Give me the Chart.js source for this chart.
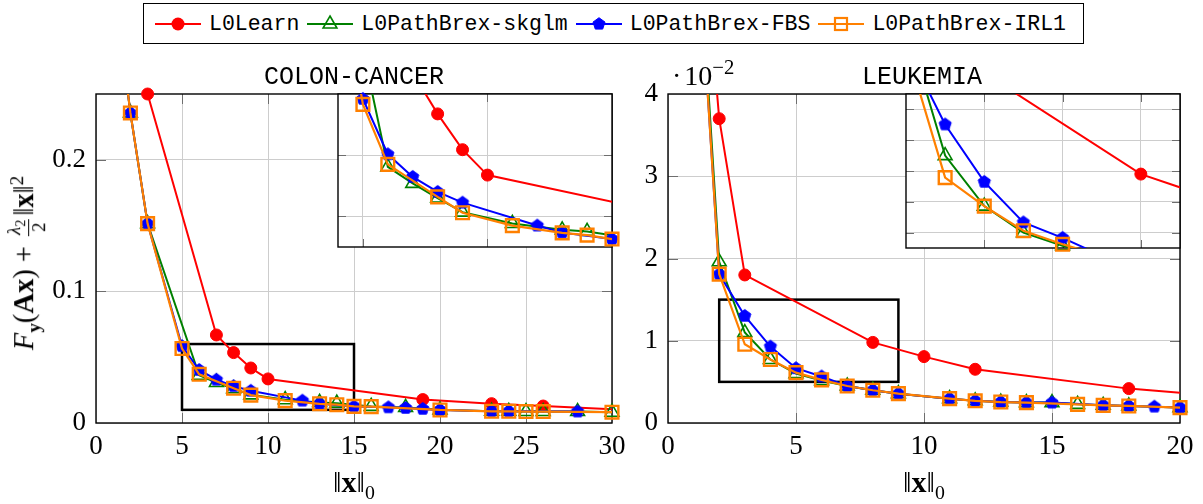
<!DOCTYPE html>
<html><head><meta charset="utf-8">
<script src="https://cdn.jsdelivr.net/npm/chart.js@4.4.1/dist/chart.umd.min.js"></script>
<style>
html,body{margin:0;padding:0;background:#fff}
body{width:1203px;height:504px;position:relative;overflow:hidden}
canvas{position:absolute}
.t{position:absolute;white-space:nowrap;transform:translate(-50%,-50%);color:#000}
.mono{font-family:'Liberation Mono',monospace}
.serif{font-family:'Liberation Serif','DejaVu Serif',serif}
#legend{position:absolute;left:143px;top:3px;width:941px;height:41px;border:1.3px solid #000;box-sizing:border-box;display:flex;align-items:center;padding-left:11px;font-family:'Liberation Mono',monospace;font-size:21.5px;background:#fff}
#legend .it{display:flex;align-items:center;margin-right:8px}
#legend svg{display:block}
#legend .lb{margin-left:8px}
.frac{display:inline-flex;flex-direction:column;align-items:center;vertical-align:middle;font-size:0.66em;line-height:1;margin:0 3px}
.frac .num{border-bottom:1.2px solid #000;padding:0 1px 1px}
.frac .den{padding-top:1px}
</style></head>
<body>
<canvas id="mainL" width="640" height="504" style="left:0;top:0"></canvas>
<canvas id="mainR" width="603" height="504" style="left:600px;top:0"></canvas>
<canvas id="insetL" width="300" height="176" style="left:328px;top:84px"></canvas>
<canvas id="insetR" width="300" height="176" style="left:896px;top:84px"></canvas>

<div id="legend">
  <span class="it"><svg width="46" height="20"><line x1="0" y1="10" x2="46" y2="10" stroke="#ff0000" stroke-width="2"/><circle cx="23" cy="10" r="6.5" fill="#ff0000"/></svg><span class="lb">L0Learn</span></span>
  <span class="it"><svg width="46" height="20"><line x1="0" y1="10" x2="46" y2="10" stroke="#008000" stroke-width="2"/><polygon points="23,2 29.9,14 16.1,14" fill="none" stroke="#008000" stroke-width="1.6"/></svg><span class="lb">L0PathBrex-skglm</span></span>
  <span class="it"><svg width="46" height="20"><line x1="0" y1="10" x2="46" y2="10" stroke="#0000ff" stroke-width="2"/><polygon points="23,3.7 29,8.1 26.7,15.1 19.3,15.1 17,8.1" fill="#0000ff" stroke="#0000ff" stroke-width="1"/></svg><span class="lb">L0PathBrex-FBS</span></span>
  <span class="it"><svg width="46" height="20"><line x1="0" y1="10" x2="46" y2="10" stroke="#ff8000" stroke-width="2"/><rect x="17" y="4" width="12" height="12" fill="none" stroke="#ff8000" stroke-width="2.2"/></svg><span class="lb">L0PathBrex-IRL1</span></span>
</div>

<div class="t mono" style="left:354px;top:77px;font-size:25px">COLON-CANCER</div>
<div class="t mono" style="left:922px;top:77px;font-size:25px">LEUKEMIA</div>
<div class="serif" style="position:absolute;left:672px;top:57px;font-size:28px;line-height:1;white-space:nowrap">·<span style="margin-left:3px">10</span><sup style="font-size:0.74em;vertical-align:0.55em">−2</sup></div>

<div class="t serif" style="left:27px;top:263px;font-size:28.5px;transform:translate(-50%,-50%) rotate(-90deg)"><i>F</i><sub style="font-size:0.68em"><b>y</b></sub>(<b>Ax</b>) + <span class="frac"><span class="num"><i>λ</i><sub style="font-size:0.75em">2</sub></span><span class="den">2</span></span>‖<b>x</b>‖<sup style="font-size:0.68em">2</sup></div>
<div class="t serif" style="left:354px;top:484px;font-size:30px">‖<b>x</b>‖<sub style="font-size:0.66em">0</sub></div>
<div class="t serif" style="left:924px;top:484px;font-size:30px">‖<b>x</b>‖<sub style="font-size:0.66em">0</sub></div>

<script>
// ---------- DATA: COLON-CANCER ----------
const colonL0LearnX = [3, 7, 8, 9, 10, 19, 23, 26, 32];
const colonL0LearnY = [0.25, 0.0669, 0.0535, 0.0418, 0.0335, 0.0178, 0.0147, 0.0129, 0.0091];
const colonSkglmX = [1, 2, 3, 6, 7, 8, 9, 11, 13, 14, 16, 18, 20, 23, 24, 25, 26, 28, 30];
const colonSkglmY = [0.34, 0.2356, 0.1515, 0.0362, 0.0308, 0.0260, 0.0214, 0.0177, 0.0156, 0.0151, 0.0126, 0.0118, 0.0100, 0.0090, 0.0089, 0.0087, 0.0087, 0.0087, 0.0082];
const colonFbsX = [1, 2, 3, 5, 6, 7, 8, 9, 12, 13, 15, 17, 18, 19, 20, 23, 24, 28];
const colonFbsY = [0.34, 0.2356, 0.1515, 0.0584, 0.0403, 0.0329, 0.0280, 0.0245, 0.0170, 0.0147, 0.0126, 0.0119, 0.0114, 0.0107, 0.0099, 0.0089, 0.0089, 0.0087];
const colonIrl1X = [1, 2, 3, 5, 6, 8, 9, 11, 13, 14, 15, 16, 20, 23, 24, 25, 26, 30];
const colonIrl1Y = [0.34, 0.2356, 0.1515, 0.0566, 0.0370, 0.0264, 0.0212, 0.0170, 0.0146, 0.0139, 0.0126, 0.0124, 0.0099, 0.0089, 0.0089, 0.0087, 0.0087, 0.0082];

// ---------- DATA: LEUKEMIA (values x 10^-2) ----------
const leukL0LearnX = [1, 2, 3, 8, 10, 12, 18, 22];
const leukL0LearnY = [7.4, 3.70, 1.80, 0.98, 0.807, 0.653, 0.418, 0.32];
const leukSkglmX = [1, 2, 3, 4, 5, 6, 7, 8, 9, 11, 12, 13, 14, 15, 16, 17, 18, 20];
const leukSkglmY = [6.9, 1.96, 1.10, 0.772, 0.600, 0.515, 0.450, 0.398, 0.357, 0.296, 0.270, 0.255, 0.248, 0.248, 0.227, 0.215, 0.207, 0.187];
const leukFbsX = [1, 2, 3, 4, 5, 6, 7, 8, 9, 11, 12, 13, 14, 15, 17, 18, 19, 20];
const leukFbsY = [6.7, 1.81, 1.302, 0.929, 0.666, 0.566, 0.450, 0.398, 0.357, 0.296, 0.270, 0.255, 0.248, 0.248, 0.215, 0.207, 0.199, 0.187];
const leukIrl1X = [1, 2, 3, 4, 5, 6, 7, 8, 9, 11, 12, 13, 14, 16, 17, 18, 20];
const leukIrl1Y = [6.7, 1.81, 0.957, 0.772, 0.612, 0.524, 0.450, 0.398, 0.357, 0.296, 0.270, 0.255, 0.248, 0.227, 0.215, 0.207, 0.187];

// ---------- AXES ----------
const colonTicksX = [0, 5, 10, 15, 20, 25, 30];
const colonTicksY = [0, 0.1, 0.2];
const colonRangeX = [0, 30], colonRangeY = [0, 0.25];
const colonInsetRangeX = [4, 15], colonInsetRangeY = [0.01, 0.06];
const colonInsetTicksX = [5, 10], colonInsetTicksY = [0.02, 0.04];
const colonBoxX = [5, 15], colonBoxY = [0.01, 0.06];

const leukTicksX = [0, 5, 10, 15, 20];
const leukTicksY = [0, 1, 2, 3, 4];
const leukRangeX = [0, 20], leukRangeY = [0, 4];
const leukInsetRangeX = [2, 9], leukInsetRangeY = [0.5, 1.5];
const leukInsetTicksX = [4, 6, 8], leukInsetTicksY = [0.6, 0.8, 1.0, 1.2, 1.4];
const leukBoxX = [2, 9], leukBoxY = [0.5, 1.5];

// ---------- STYLE ----------
const SERIF = "'Liberation Serif','DejaVu Serif',serif";
Chart.defaults.font.family = SERIF;
const GRID = '#cdcdcd';
function pentagonCanvas(r, color) {
  const s = 18, c = document.createElement('canvas'); c.width = s; c.height = s;
  const g = c.getContext('2d'); g.beginPath();
  for (let i = 0; i < 5; i++) {
    const a = -Math.PI / 2 + i * 2 * Math.PI / 5;
    const px = s / 2 + r * Math.cos(a), py = s / 2 + r * Math.sin(a);
    i ? g.lineTo(px, py) : g.moveTo(px, py);
  }
  g.closePath(); g.fillStyle = color; g.fill(); g.lineWidth = 1; g.strokeStyle = color; g.stroke();
  return c;
}
const PENT = pentagonCanvas(6.4, '#0000ff');
const STYLES = {
  red:    {color: '#ff0000', lw: 2, ps: 'circle', r: 6, bw: 1, bg: '#ff0000'},
  green:  {color: '#008000', lw: 2, ps: 'triangle', r: 8, bw: 1.6, bg: 'rgba(0,0,0,0)'},
  blue:   {color: '#0000ff', lw: 2, ps: PENT, r: 6.5, bw: 1, bg: '#0000ff'},
  orange: {color: '#ff8000', lw: 2.2, ps: 'rect', r: 9, bw: 2.4, bg: 'rgba(0,0,0,0)'}
};

// a mark is shown only when its value lies inside the axis range
function inRange(ctx) {
  const p = ctx.raw, sx = ctx.chart.scales.x, sy = ctx.chart.scales.y;
  if (!p || !sx || !sy) return false;
  const ex = (sx.max - sx.min) * 1e-6, ey = (sy.max - sy.min) * 1e-6;
  return p.x >= sx.min - ex && p.x <= sx.max + ex && p.y >= sy.min - ey && p.y <= sy.max + ey;
}

function series(xs, ys, st, ord) {
  const data = xs.map((x, i) => ({x: x, y: ys[i]}));
  return [
    {data, showLine: true, borderColor: st.color, borderWidth: st.lw, pointRadius: 0, clip: 0, order: ord + 1, tension: 0, fill: false},
    {data, showLine: false, clip: false, order: ord, pointStyle: st.ps,
     pointRadius: ctx => inRange(ctx) ? st.r : 0,
     pointBorderColor: st.color, pointBackgroundColor: st.bg, pointBorderWidth: st.bw}
  ];
}
function allSeries(d) {
  return [].concat(
    series(d[0][0], d[0][1], STYLES.red, 6),
    series(d[1][0], d[1][1], STYLES.green, 4),
    series(d[2][0], d[2][1], STYLES.blue, 2),
    series(d[3][0], d[3][1], STYLES.orange, 0)
  );
}

const framePlugin = {
  id: 'frame',
  beforeDraw(chart, args, o) {
    if (!o.bg) return;
    const a = chart.chartArea, ctx = chart.ctx;
    ctx.save(); ctx.fillStyle = '#fff'; ctx.fillRect(a.left, a.top, a.width, a.height); ctx.restore();
  },
  beforeDatasetsDraw(chart, args, o) {
    const ctx = chart.ctx, a = chart.chartArea, x = chart.scales.x, y = chart.scales.y;
    const L = o.tickLen || 8;
    ctx.save();
    ctx.strokeStyle = '#6e6e6e'; ctx.lineWidth = 1;
    ctx.beginPath();
    x.ticks.forEach(t => {
      const px = Math.round(x.getPixelForValue(t.value)) + 0.5;
      if (px > a.left + 2 && px < a.right - 2) {
        ctx.moveTo(px, a.top); ctx.lineTo(px, a.top + L);
        ctx.moveTo(px, a.bottom); ctx.lineTo(px, a.bottom - L);
      }
    });
    y.ticks.forEach(t => {
      const py = Math.round(y.getPixelForValue(t.value)) + 0.5;
      if (py > a.top + 2 && py < a.bottom - 2) {
        ctx.moveTo(a.left, py); ctx.lineTo(a.left + L, py);
        ctx.moveTo(a.right, py); ctx.lineTo(a.right - L, py);
      }
    });
    ctx.stroke();
    ctx.strokeStyle = '#000'; ctx.lineWidth = 1.4;
    ctx.strokeRect(a.left, a.top, a.width, a.height);
    if (o.box) {
      const x0 = x.getPixelForValue(o.box.x[0]), x1 = x.getPixelForValue(o.box.x[1]);
      const y0 = y.getPixelForValue(o.box.y[0]), y1 = y.getPixelForValue(o.box.y[1]);
      ctx.lineWidth = 2.5; ctx.strokeStyle = '#000';
      ctx.strokeRect(x0, y1, x1 - x0, y0 - y1);
    }
    ctx.restore();
  }
};

function makeChart(id, c) {
  return new Chart(document.getElementById(id), {
    type: 'scatter',
    data: {datasets: c.datasets},
    options: {
      responsive: false, animation: false, devicePixelRatio: 1, events: [],
      layout: {padding: c.pad},
      plugins: {legend: {display: false}, tooltip: {enabled: false}, frame: {box: c.box, tickLen: c.tickLen, bg: c.bg}},
      scales: {
        x: {type: 'linear', min: c.rx[0], max: c.rx[1],
            afterBuildTicks: s => { s.ticks = c.tx.map(v => ({value: v})); },
            afterFit: s => { s.height = c.xh; },
            grid: {color: GRID, lineWidth: 1, drawTicks: false}, border: {display: false},
            ticks: {display: c.labels, autoSkip: false, maxRotation: 0, padding: 8, color: '#000',
                    font: {family: SERIF, size: 27}, callback: v => String(v)}},
        y: {type: 'linear', min: c.ry[0], max: c.ry[1],
            afterBuildTicks: s => { s.ticks = c.ty.map(v => ({value: v})); },
            afterFit: s => { s.width = c.yw; },
            grid: {color: GRID, lineWidth: 1, drawTicks: false}, border: {display: false},
            ticks: {display: c.labels, autoSkip: false, padding: 10, color: '#000',
                    font: {family: SERIF, size: 27}, callback: v => String(v)}}
      }
    },
    plugins: [framePlugin]
  });
}

const colonData = [[colonL0LearnX, colonL0LearnY], [colonSkglmX, colonSkglmY], [colonFbsX, colonFbsY], [colonIrl1X, colonIrl1Y]];
const leukData = [[leukL0LearnX, leukL0LearnY], [leukSkglmX, leukSkglmY], [leukFbsX, leukFbsY], [leukIrl1X, leukIrl1Y]];

makeChart('mainL', {datasets: allSeries(colonData), pad: {left: 0, top: 94, right: 28, bottom: 0},
  rx: colonRangeX, ry: colonRangeY, tx: colonTicksX, ty: colonTicksY, xh: 81, yw: 96, labels: true,
  box: {x: colonBoxX, y: colonBoxY}, tickLen: 10, bg: false});
makeChart('mainR', {datasets: allSeries(leukData), pad: {left: 0, top: 94, right: 23, bottom: 0},
  rx: leukRangeX, ry: leukRangeY, tx: leukTicksX, ty: leukTicksY, xh: 81, yw: 68, labels: true,
  box: {x: leukBoxX, y: leukBoxY}, tickLen: 10, bg: false});
makeChart('insetL', {datasets: allSeries(colonData), pad: {left: 10, top: 10, right: 16, bottom: 13},
  rx: colonInsetRangeX, ry: colonInsetRangeY, tx: colonInsetTicksX, ty: colonInsetTicksY, xh: 0, yw: 0, labels: false,
  box: null, tickLen: 8, bg: true});
makeChart('insetR', {datasets: allSeries(leukData), pad: {left: 10, top: 10, right: 16, bottom: 12},
  rx: leukInsetRangeX, ry: leukInsetRangeY, tx: leukInsetTicksX, ty: leukInsetTicksY, xh: 0, yw: 0, labels: false,
  box: null, tickLen: 8, bg: true});
</script>
</body></html>
